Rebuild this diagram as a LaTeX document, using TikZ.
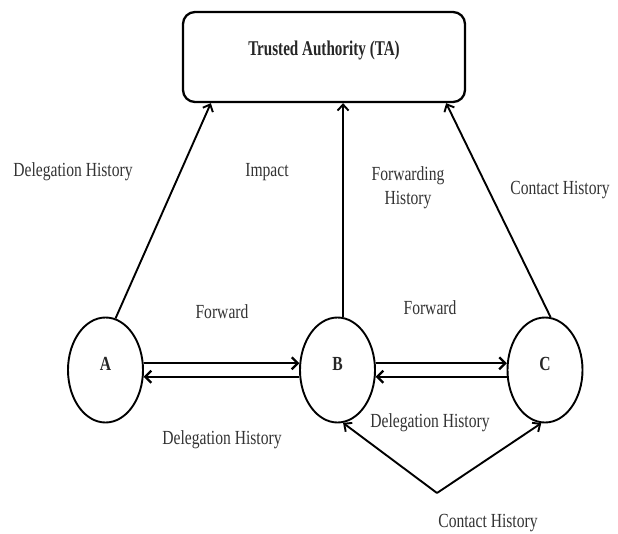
\documentclass[tikz,border=0pt]{standalone}
\usepackage{fontspec}
\setmainfont{Liberation Serif}[FakeStretch=0.78]
\newfontfamily\tafont{Liberation Serif}[FakeStretch=0.72]
\usetikzlibrary{shapes.geometric,arrows.meta,calc}
\begin{document}
\begin{tikzpicture}[x=1pt,y=-1pt,
  lbl/.style={font=\fontsize{20}{24}\selectfont, text=black!80, inner sep=0pt, align=center},
  nodeell/.style={ellipse, draw, line width=1.9pt, minimum width=75pt, minimum height=105pt,
    inner sep=0pt, font=\fontsize{20}{24}\selectfont\bfseries, text=black!85, text height=8pt, text depth=8pt},
  tabox/.style={rectangle, draw, rounded corners=12pt, line width=2.3pt, minimum width=282pt,
    minimum height=90pt, inner sep=0pt, font=\tafont\fontsize{21}{24}\selectfont\bfseries,
    text=black!85, text height=10pt, text depth=13pt},
  conn/.style={line width=1.9pt, -{Straight Barb[length=6pt,width=11pt]}},
  dconn/.style={line width=2.3pt, -{Straight Barb[length=6pt,width=12pt]}}]
\useasboundingbox (0,0) rectangle (618,533);
\node[tabox] (TA) at (324,57) {Trusted Authority (TA)};
\node[nodeell] (A) at (105.5,370) {A};
\node[nodeell] (B) at (337.5,370) {B};
\node[nodeell] (C) at (545,370) {C};
\coordinate (apex) at (437,493);

\draw[conn] (A.79) -- ($(TA.south west)+(29,0)$);
\draw[conn] (B.84) -- (B.84 |- TA.south);
\draw[conn] (C.84) -- ($(TA.south east)+(-20,0)$);

\draw[dconn] (A.10) -- (B.170);
\draw[dconn] (B.-170) -- (A.-10);
\draw[dconn] (B.10) -- (C.170);
\draw[dconn] (C.-170) -- (B.-10);

\draw[conn] (apex) -- (B.-84);
\draw[conn] (apex) -- (C.-94);

\node[lbl] (l1) at (73,172) {Delegation History};
\node[lbl] (l2) at (267,172) {Impact};
\node[lbl] (l3) at (408,188) {Forwarding\\History};
\node[lbl] (l4) at (560,190) {Contact History};
\node[lbl] (l5) at (222,312) {Forward};
\node[lbl] (l6) at (222,440) {Delegation History};
\node[lbl] (l7) at (430,308) {Forward};
\node[lbl] (l8) at (430,423) {Delegation History};
\node[lbl] (l9) at (488,523) {Contact History};
\end{tikzpicture}
\end{document}
